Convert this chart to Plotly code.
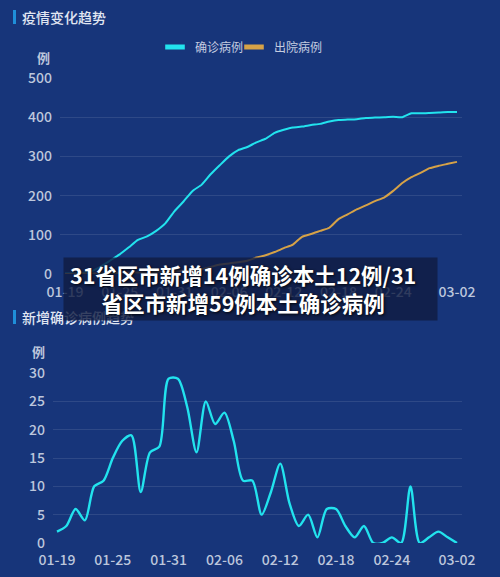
import plotly.graph_objects as go

dates = ["01-19","01-20","01-21","01-22","01-23","01-24","01-25","01-26","01-27","01-28",
         "01-29","01-30","01-31","02-01","02-02","02-03","02-04","02-05","02-06","02-07",
         "02-08","02-09","02-10","02-11","02-12","02-13","02-14","02-15","02-16","02-17",
         "02-18","02-19","02-20","02-21","02-22","02-23","02-24","02-25","02-26","02-27",
         "02-28","02-29","03-01","03-02"]

confirmed = [1,2,3,8,20,35,50,68,87,96,
             110,129,160,185,212,228,255,278,300,316,
             324,336,345,360,368,374,376,380,383,389,
             393,394,395,398,399,400,401,400,410,410,
             411,412,413,413]

discharged = [0,0,1,1,2,2,3,3,4,4,
              5,6,7,8,10,12,18,24,27,30,
              34,42,48,56,66,75,95,102,110,118,
              140,152,165,175,186,195,212,232,247,258,
              270,276,281,286]

new_cases = [2,3,6,4,10,11,15,18,19,9,
             16,17,29,29,24,16,25,21,23,18,
             11,11,5,9,14,7,3,5,1,6,
             6,3,1,3,0,0,1,0,10,0,
             1,2,1,0]

x_ticks = ["01-19","01-25","01-31","02-06","02-12","02-18","02-24","03-02"]
top_y_ticks = [0,100,200,300,400,500]
bot_y_ticks = [0,5,10,15,20,25,30]

W, H = 500, 577
BG = "#17357a"
GRID = "rgba(255,255,255,0.10)"
TICK = "#bcc6dc"
CYAN = "#22e3ee"
GOLD = "#d6a247"
FONT = "Noto Sans CJK SC"

def px(x):
    return x / W

def py(y):
    return 1 - y / H

fig = go.Figure()

fig.add_trace(go.Scatter(x=dates, y=confirmed, mode="lines", name="确诊病例",
                         line=dict(color=CYAN, width=2, shape="spline", smoothing=0.5),
                         xaxis="x", yaxis="y", showlegend=False))
fig.add_trace(go.Scatter(x=dates, y=discharged, mode="lines", name="出院病例",
                         line=dict(color=GOLD, width=2, shape="spline", smoothing=0.5),
                         xaxis="x", yaxis="y", showlegend=False))
# legend entries (one legend per item so spacing can match)
for nm, col, lg in [("确诊病例", CYAN, "legend"), ("出院病例", GOLD, "legend2")]:
    fig.add_trace(go.Scatter(x=[None], y=[None], mode="markers", name=nm,
                             marker=dict(symbol="line-ew", size=14, color=col,
                                         line=dict(color=col, width=5)),
                             xaxis="x", yaxis="y", showlegend=True, legend=lg))

fig.add_trace(go.Scatter(x=dates, y=new_cases, mode="lines", name="新增确诊",
                         line=dict(color=CYAN, width=2.4, shape="spline", smoothing=0.8),
                         xaxis="x2", yaxis="y2", showlegend=False))

tickfont = dict(family=FONT, size=14, color=TICK, weight=500)
legend_font = dict(family=FONT, size=12, color="#c4cce0")

fig.update_layout(
    width=W, height=H,
    margin=dict(l=0, r=0, t=0, b=0, pad=0, autoexpand=False),
    paper_bgcolor=BG, plot_bgcolor=BG,
    font=dict(family=FONT, color=TICK),
    xaxis=dict(domain=[px(60), px(462)], range=[-0.55, 43.55], type="category",
               tickvals=x_ticks, showgrid=False, anchor="y", showline=False,
               zeroline=False, ticks="", tickfont=tickfont, ticklabelstandoff=8),
    yaxis=dict(domain=[py(274), py(78)], range=[0, 500], tickvals=top_y_ticks,
               showgrid=True, gridcolor=GRID, gridwidth=1, anchor="x", showline=False,
               zeroline=False, ticks="", tickfont=tickfont, ticklabelstandoff=7),
    xaxis2=dict(domain=[px(53), px(462)], range=[-0.43, 43.54], type="category",
                tickvals=x_ticks, showgrid=False, anchor="y2", showline=False,
                zeroline=False, ticks="", tickfont=tickfont, ticklabelstandoff=7),
    yaxis2=dict(domain=[py(543), py(373)], range=[0, 30], tickvals=bot_y_ticks,
                showgrid=True, gridcolor=GRID, gridwidth=1, anchor="x2", showline=False,
                zeroline=False, ticks="", tickfont=tickfont, ticklabelstandoff=7),
    legend=dict(orientation="h", x=px(155), xanchor="left", y=py(47), yanchor="middle",
                bgcolor="rgba(0,0,0,0)", font=legend_font, itemwidth=30),
    legend2=dict(orientation="h", x=px(234), xanchor="left", y=py(47), yanchor="middle",
                 bgcolor="rgba(0,0,0,0)", font=legend_font, itemwidth=30),
    showlegend=True,
)

shapes = [
    dict(type="rect", xref="paper", yref="paper", x0=px(13), x1=px(16), y0=py(24), y1=py(10),
         fillcolor="#1f8fd9", line=dict(width=0)),
    dict(type="rect", xref="paper", yref="paper", x0=px(13), x1=px(16), y0=py(324), y1=py(310),
         fillcolor="#1f8fd9", line=dict(width=0)),
]
fig.update_layout(shapes=shapes)

title_font = dict(family=FONT, size=14, color="#e0e6f2", weight=500)
unit_font = dict(family=FONT, size=13, color=TICK, weight=700)

annotations = [
    dict(text="疫情变化趋势", x=px(20), y=py(17), xref="paper", yref="paper",
         xanchor="left", yanchor="middle", showarrow=False, font=title_font),
    dict(text="例", x=px(43), y=py(57), xref="paper", yref="paper",
         xanchor="center", yanchor="middle", showarrow=False, font=unit_font),
    dict(text="新增确诊病例趋势", x=px(20), y=py(317), xref="paper", yref="paper",
         xanchor="left", yanchor="middle", showarrow=False, font=title_font),
    dict(text="例", x=px(38), y=py(351), xref="paper", yref="paper",
         xanchor="center", yanchor="middle", showarrow=False, font=unit_font),
    # overlay box
    dict(text=" ", x=px(63), y=py(257), xref="paper", yref="paper",
         xanchor="left", yanchor="top", showarrow=False, width=373, height=62,
         bgcolor="rgba(16,28,66,0.82)", borderpad=0, font=dict(size=10)),
    dict(text="31省区市新增14例确诊本土12例/31<br>省区市新增59例本土确诊病例",
         x=px(243), y=py(288), xref="paper", yref="paper",
         xanchor="center", yanchor="middle", showarrow=False, align="center",
         font=dict(family=FONT, size=21.5, color="#ffffff", weight=700,
                   shadow="1px 1px 3px rgba(0,0,0,0.9)")),
]
fig.update_layout(annotations=annotations)

fig.write_html("out.html", config={"displayModeBar": False},
               post_script="document.body.style.margin='0';document.body.style.overflow='hidden';")
